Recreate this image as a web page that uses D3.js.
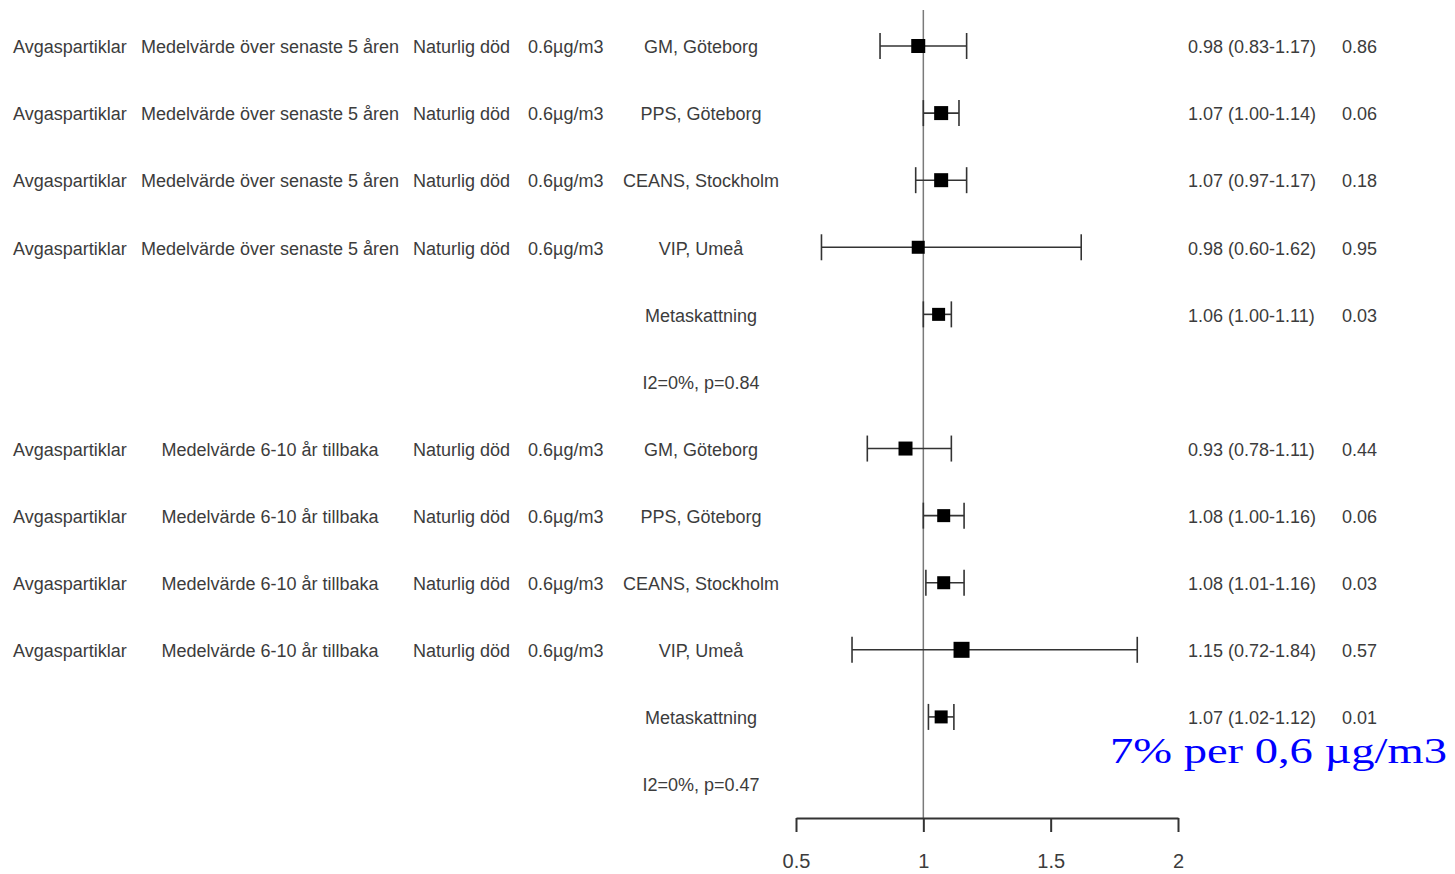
<!DOCTYPE html>
<html>
<head>
<meta charset="utf-8">
<script src="https://cdn.jsdelivr.net/npm/d3@7"></script>
<style>
  html, body { margin: 0; padding: 0; background: #fff; }
  svg { display: block; }
  .lbl { font-family: "Liberation Sans", Arial, sans-serif; font-size: 18px; fill: #3c3c3c; }
  .note { font-family: "Liberation Serif", "DejaVu Serif", Georgia, serif; fill: #0000ff; }
</style>
</head>
<body>
<svg id="chart" width="1455" height="874"></svg>
<script>
// Study rows of the forest plot (two exposure windows, each with four cohorts + meta-estimate)
const exposure  = ["Avgaspartiklar", "Avgaspartiklar", "Avgaspartiklar", "Avgaspartiklar", "", "",
                   "Avgaspartiklar", "Avgaspartiklar", "Avgaspartiklar", "Avgaspartiklar", "", ""];
const period    = ["Medelvärde över senaste 5 åren", "Medelvärde över senaste 5 åren",
                   "Medelvärde över senaste 5 åren", "Medelvärde över senaste 5 åren", "", "",
                   "Medelvärde 6-10 år tillbaka", "Medelvärde 6-10 år tillbaka",
                   "Medelvärde 6-10 år tillbaka", "Medelvärde 6-10 år tillbaka", "", ""];
const outcome   = ["Naturlig död", "Naturlig död", "Naturlig död", "Naturlig död", "", "",
                   "Naturlig död", "Naturlig död", "Naturlig död", "Naturlig död", "", ""];
const increment = ["0.6µg/m3", "0.6µg/m3", "0.6µg/m3", "0.6µg/m3", "", "",
                   "0.6µg/m3", "0.6µg/m3", "0.6µg/m3", "0.6µg/m3", "", ""];
const cohort    = ["GM, Göteborg", "PPS, Göteborg", "CEANS, Stockholm", "VIP, Umeå", "Metaskattning", "I2=0%, p=0.84",
                   "GM, Göteborg", "PPS, Göteborg", "CEANS, Stockholm", "VIP, Umeå", "Metaskattning", "I2=0%, p=0.47"];
const estimate  = [0.98, 1.07, 1.07, 0.98, 1.06, null, 0.93, 1.08, 1.08, 1.15, 1.07, null];
const lower     = [0.83, 1.00, 0.97, 0.60, 1.00, null, 0.78, 1.00, 1.01, 0.72, 1.02, null];
const upper     = [1.17, 1.14, 1.17, 1.62, 1.11, null, 1.11, 1.16, 1.16, 1.84, 1.12, null];
const pValue    = ["0.86", "0.06", "0.18", "0.95", "0.03", "", "0.44", "0.06", "0.03", "0.57", "0.01", ""];
const boxSize   = [14, 14, 14, 13, 13, 0, 14, 13, 13, 16, 13, 0];
const xTicks    = [0.5, 1, 1.5, 2];
const note      = "7% per 0,6 µg/m3";

const fmt2 = d3.format(".2f");
const rows = cohort.map((c, i) => ({
  i, exposure: exposure[i], period: period[i], outcome: outcome[i], increment: increment[i],
  cohort: c, est: estimate[i], lo: lower[i], hi: upper[i], p: pValue[i], box: boxSize[i]
}));

const svg = d3.select("#chart");
const x = d3.scaleLinear().domain([0.5, 2]).range([796, 1178]);
const y = d3.scaleLinear().domain([0, rows.length - 1]).range([46, 784]);
const axisY = 818;

// Text columns
const textG = svg.append("g");
const cols = [
  { key: "exposure",  x: 13,   anchor: "start"  },
  { key: "period",    x: 270,  anchor: "middle" },
  { key: "outcome",   x: 413,  anchor: "start"  },
  { key: "increment", x: 528,  anchor: "start"  },
  { key: "cohort",    x: 701,  anchor: "middle" }
];
cols.forEach(c => {
  textG.selectAll(null).data(rows).join("text")
    .attr("class", "lbl")
    .attr("x", c.x)
    .attr("y", d => y(d.i) + 1)
    .attr("dy", "0.35em")
    .attr("text-anchor", c.anchor)
    .text(d => d[c.key]);
});
textG.selectAll(null).data(rows.filter(d => d.est != null)).join("text")
  .attr("class", "lbl")
  .attr("x", 1188).attr("y", d => y(d.i) + 1).attr("dy", "0.35em")
  .text(d => `${fmt2(d.est)} (${fmt2(d.lo)}-${fmt2(d.hi)})`);
textG.selectAll(null).data(rows.filter(d => d.est != null)).join("text")
  .attr("class", "lbl")
  .attr("x", 1342).attr("y", d => y(d.i) + 1).attr("dy", "0.35em")
  .text(d => d.p);

// Null-effect reference line at 1
svg.append("line")
  .attr("x1", x(1)).attr("x2", x(1))
  .attr("y1", 10).attr("y2", axisY)
  .attr("stroke", "#7a7a7a").attr("stroke-width", 1.5);

// Confidence intervals and point estimates
const ci = svg.append("g").selectAll("g")
  .data(rows.filter(d => d.est != null)).join("g")
  .attr("transform", d => `translate(0,${y(d.i)})`)
  .attr("stroke", "#333").attr("stroke-width", 1.6);
ci.append("line").attr("x1", d => x(d.lo)).attr("x2", d => x(d.hi));
ci.append("line").attr("x1", d => x(d.lo)).attr("x2", d => x(d.lo)).attr("y1", -13).attr("y2", 13);
ci.append("line").attr("x1", d => x(d.hi)).attr("x2", d => x(d.hi)).attr("y1", -13).attr("y2", 13);
ci.append("rect")
  .attr("x", d => x(d.est) - d.box / 2).attr("y", d => -d.box / 2)
  .attr("width", d => d.box).attr("height", d => d.box)
  .attr("fill", "#000").attr("stroke", "none");

// Horizontal axis
const axis = svg.append("g")
  .attr("transform", `translate(0,${axisY})`)
  .call(d3.axisBottom(x).tickValues(xTicks).tickFormat(d3.format("")).tickSize(14).tickSizeOuter(0).tickPadding(22));
axis.select(".domain").attr("stroke", "#333").attr("stroke-width", 2);
axis.selectAll(".tick line").attr("stroke", "#333").attr("stroke-width", 2);
axis.selectAll(".tick text")
  .attr("font-family", "Liberation Sans, Arial, sans-serif")
  .attr("font-size", 20).attr("fill", "#3c3c3c");

// Summary note
svg.append("text")
  .attr("class", "note")
  .attr("x", 1110).attr("y", 763)
  .attr("font-size", 36)
  .attr("textLength", 337)
  .attr("lengthAdjust", "spacingAndGlyphs")
  .text(note);
</script>
</body>
</html>
